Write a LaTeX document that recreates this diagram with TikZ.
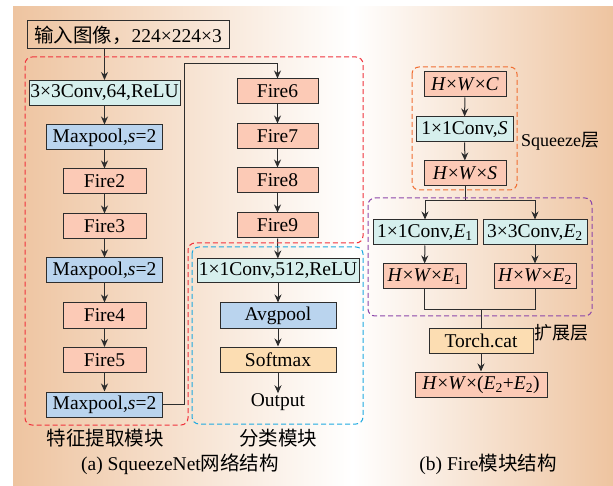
\documentclass[tikz,border=0pt]{standalone}
\usepackage{fontspec}
\setmainfont{Liberation Serif}
\newfontfamily\cjk{Noto Sans CJK SC}
\usetikzlibrary{arrows.meta}
\definecolor{tan}{RGB}{238,196,160}
\definecolor{firec}{RGB}{252,202,182}
\definecolor{convc}{RGB}{214,239,237}
\definecolor{poolc}{RGB}{186,212,238}
\definecolor{softc}{RGB}{252,221,178}
\definecolor{linec}{RGB}{45,45,45}
\definecolor{redd}{RGB}{240,50,60}
\definecolor{blued}{RGB}{30,170,225}
\definecolor{orad}{RGB}{240,110,50}
\definecolor{purd}{RGB}{140,70,170}
\tikzset{
  box/.style={draw=linec, line width=1pt, inner sep=0pt, minimum height=25pt, font=\fontsize{19.5}{21}\selectfont},
  fire/.style={box, fill=firec},
  conv/.style={box, fill=convc},
  pool/.style={box, fill=poolc},
  soft/.style={box, fill=softc},
  lab/.style={inner sep=0pt, font=\fontsize{18}{20}\selectfont},
  outtxt/.style={inner sep=0pt, font=\fontsize{19.5}{21}\selectfont},
  captxt/.style={inner sep=0pt, font=\fontsize{19.5}{21}\selectfont},
  arr/.style={draw=linec, line width=1pt, -{Stealth[length=8pt,width=7pt]}},
  ln/.style={draw=linec, line width=1pt},
  dbox/.style={line width=1pt, dash pattern=on 5pt off 3pt, rounded corners=7pt}
}
\begin{document}
\begin{tikzpicture}[x=1pt,y=-1pt]
\useasboundingbox (0,0) rectangle (613,486);
% background
\shade[left color=tan, right color=white] (13,7) rectangle (352,486);
\shade[left color=white, right color=tan] (352,7) rectangle (613,486);

% ---------- left panel ----------
\node[box, minimum width=202pt, minimum height=28pt] (in) at (128,35) {{\cjk 输入图像，}224×224×3};
\node[conv, minimum width=151pt] (c1) at (104.5,93) {3×3Conv,64,ReLU};
\node[pool, minimum width=116pt] (m1) at (104.5,137.5) {Maxpool,\textit{s}=2};
\node[fire, minimum width=83pt] (f2) at (104.5,181.5) {Fire2};
\node[fire, minimum width=83pt] (f3) at (104.5,226.5) {Fire3};
\node[pool, minimum width=116pt] (m2) at (104.5,270.5) {Maxpool,\textit{s}=2};
\node[fire, minimum width=83pt] (f4) at (104.5,315.5) {Fire4};
\node[fire, minimum width=83pt] (f5) at (104.5,360) {Fire5};
\node[pool, minimum width=116pt] (m3) at (104.5,404.5) {Maxpool,\textit{s}=2};

\node[fire, minimum width=81pt] (f6) at (277.5,91.5) {Fire6};
\node[fire, minimum width=81pt] (f7) at (277.5,136.5) {Fire7};
\node[fire, minimum width=81pt] (f8) at (277.5,180.5) {Fire8};
\node[fire, minimum width=81pt] (f9) at (277.5,225.5) {Fire9};
\node[conv, minimum width=162pt, minimum height=24pt] (c2) at (278,271) {1×1Conv,512,ReLU};
\node[pool, minimum width=116pt] (ap) at (278,315.5) {Avgpool};
\node[soft, minimum width=116pt] (sm) at (278,359.5) {Softmax};
\node[outtxt] (out) at (278,402) {Output};

\coordinate (k1) at (184,404.5);
\coordinate (k2) at (184,64);
\coordinate (k3) at (277.5,64);

\draw[arr] (in.south -| c1.north) -- (c1.north);
\draw[arr] (c1) -- (m1);
\draw[arr] (m1) -- (f2);
\draw[arr] (f2) -- (f3);
\draw[arr] (f3) -- (m2);
\draw[arr] (m2) -- (f4);
\draw[arr] (f4) -- (f5);
\draw[arr] (f5) -- (m3);
\draw[arr] (m3.east) -- (k1) -- (k2) -- (k3) -- (f6.north);
\draw[arr] (f6) -- (f7);
\draw[arr] (f7) -- (f8);
\draw[arr] (f8) -- (f9);
\draw[arr] (f9) -- (c2);
\draw[arr] (c2) -- (ap);
\draw[arr] (ap) -- (sm);
\draw[arr] (sm) -- (out);

\draw[dbox, draw=redd] (25,57) -- (363,57) -- (363,243) -- (188,243) -- (188,425) -- (25,425) -- cycle;
\draw[dbox, draw=blued] (192,247) rectangle (363,424);

\node[captxt] (t1) at (105,438) {\cjk 特征提取模块};
\node[captxt] (t2) at (278,438) {\cjk 分类模块};
\node[captxt] (t3) at (180,464) {(a) SqueezeNet{\cjk 网络结构}};

% ---------- right panel ----------
\node[fire, minimum width=82pt] (hc) at (465,84.5) {\textit{H}×\textit{W}×\textit{C}};
\node[conv, minimum width=97pt] (cs) at (464.5,129.5) {1×1Conv,\textit{S}};
\node[fire, minimum width=82pt] (hs) at (465,173.5) {\textit{H}×\textit{W}×\textit{S}};
\node[conv, minimum width=104pt] (e1) at (425,232.5) {1×1Conv,\textit{E}\textsubscript{1}};
\node[conv, minimum width=104pt] (e2) at (535,232.5) {3×3Conv,\textit{E}\textsubscript{2}};
\node[fire, minimum width=83pt] (he1) at (424.5,276.5) {\textit{H}×\textit{W}×\textit{E}\textsubscript{1}};
\node[fire, minimum width=82pt] (he2) at (535,276.5) {\textit{H}×\textit{W}×\textit{E}\textsubscript{2}};
\node[soft, minimum width=104pt] (tc) at (481,340.5) {Torch.cat};
\node[fire, minimum width=132pt] (hf) at (481,384.5) {\textit{H}×\textit{W}×(\textit{E}\textsubscript{2}+\textit{E}\textsubscript{2})};

\coordinate (b0) at (465,201);
\coordinate (m0) at (481,310);

\draw[arr] (hc) -- (cs);
\draw[arr] (cs) -- (hs);
\draw[ln] (hs.south) -- (b0);
\draw[arr] (b0) -| (e1.north);
\draw[arr] (b0) -| (e2.north);
\draw[arr] (e1) -- (he1);
\draw[arr] (e2) -- (he2);
\draw[ln] (he1.south) |- (m0);
\draw[ln] (he2.south) |- (m0);
\draw[ln] (m0) -- (tc.north);
\draw[arr] (tc) -- (hf);

\draw[dbox, draw=orad] (412,67) rectangle (517,190);
\draw[dbox, draw=purd] (368,198) rectangle (592,316);

\node[lab, anchor=west] (sq) at (521,141) {Squeeze{\cjk 层}};
\node[lab, anchor=west] (kz) at (534,333) {\cjk 扩展层};
\node[captxt] (t4) at (488,464) {(b) Fire{\cjk 模块结构}};
\end{tikzpicture}
\end{document}
